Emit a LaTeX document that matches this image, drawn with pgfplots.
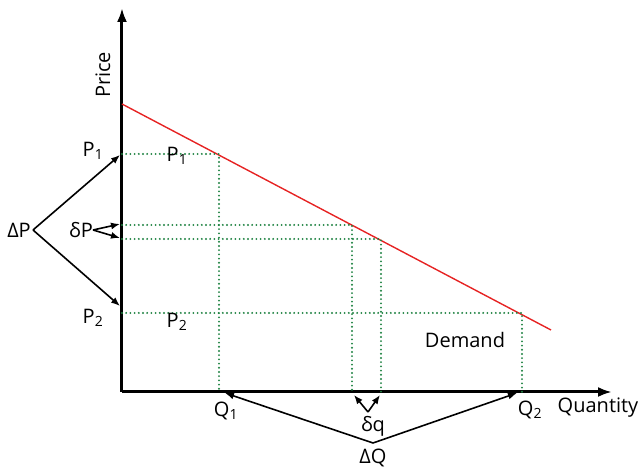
\documentclass[border=0pt]{standalone}
\usepackage{pgfplots}
\pgfplotsset{compat=1.18}
\usepackage{fontspec}
\setmainfont{Open Sans}
\usetikzlibrary{arrows.meta}
\definecolor{dgreen}{RGB}{30,130,65}
\definecolor{dred}{RGB}{230,35,35}
\begin{document}
\begin{tikzpicture}[font=\fontsize{20}{24}\selectfont]
\begin{axis}[
  scale only axis, width=490pt, height=384pt,
  xmin=0, xmax=490, ymin=0, ymax=384,
  axis lines=left, ticks=none, clip=false,
  axis line style={line width=3pt, -{Latex[length=14pt,width=10pt]}},
  guide/.style={dgreen, line width=2.1pt, line cap=round, dash pattern=on 0pt off 4.2pt},
]
% demand curve
\addplot[dred, line width=1.4pt] coordinates {(0,288) (429,62)};
% dotted guides
\addplot[guide] coordinates {(0,238) (97,238) (97,0)};
\addplot[guide] coordinates {(0,167) (230,167) (230,0)};
\addplot[guide] coordinates {(0,153) (259,153) (259,0)};
\addplot[guide] coordinates {(0,79) (400,79) (400,0)};
% labels
\node[rotate=90] at (axis cs:-19,317) {Price};
\node at (axis cs:-29,241) {P\textsubscript{1}};
\node at (axis cs:55,236) {P\textsubscript{1}};
\node at (axis cs:-29,74) {P\textsubscript{2}};
\node at (axis cs:55,70) {P\textsubscript{2}};
\node at (axis cs:-103,162) {ΔP};
\node at (axis cs:-41,162) {δP};
\node at (axis cs:104,-19) {Q\textsubscript{1}};
\node at (axis cs:408,-18) {Q\textsubscript{2}};
\node at (axis cs:476,-16) {Quantity};
\node at (axis cs:251,-34) {δq};
\node at (axis cs:251,-66) {ΔQ};
\node at (axis cs:343,52) {Demand};
% arrows
\begin{scope}[line width=1.6pt, -{Latex[length=9pt,width=7pt]}]
\draw (axis cs:-89,162) -- (axis cs:-2,237);
\draw (axis cs:-89,162) -- (axis cs:-2,86);
\draw (axis cs:-29,162) -- (axis cs:-2,168);
\draw (axis cs:-29,162) -- (axis cs:-2,154);
\draw (axis cs:251,-51) -- (axis cs:103,-1);
\draw (axis cs:251,-51) -- (axis cs:395,-1);
\draw (axis cs:246,-20) -- (axis cs:232,-3);
\draw (axis cs:246,-20) -- (axis cs:258,-3);
\end{scope}
\path (axis cs:-122,-81) rectangle (axis cs:521,392);
\end{axis}
\end{tikzpicture}
\end{document}
